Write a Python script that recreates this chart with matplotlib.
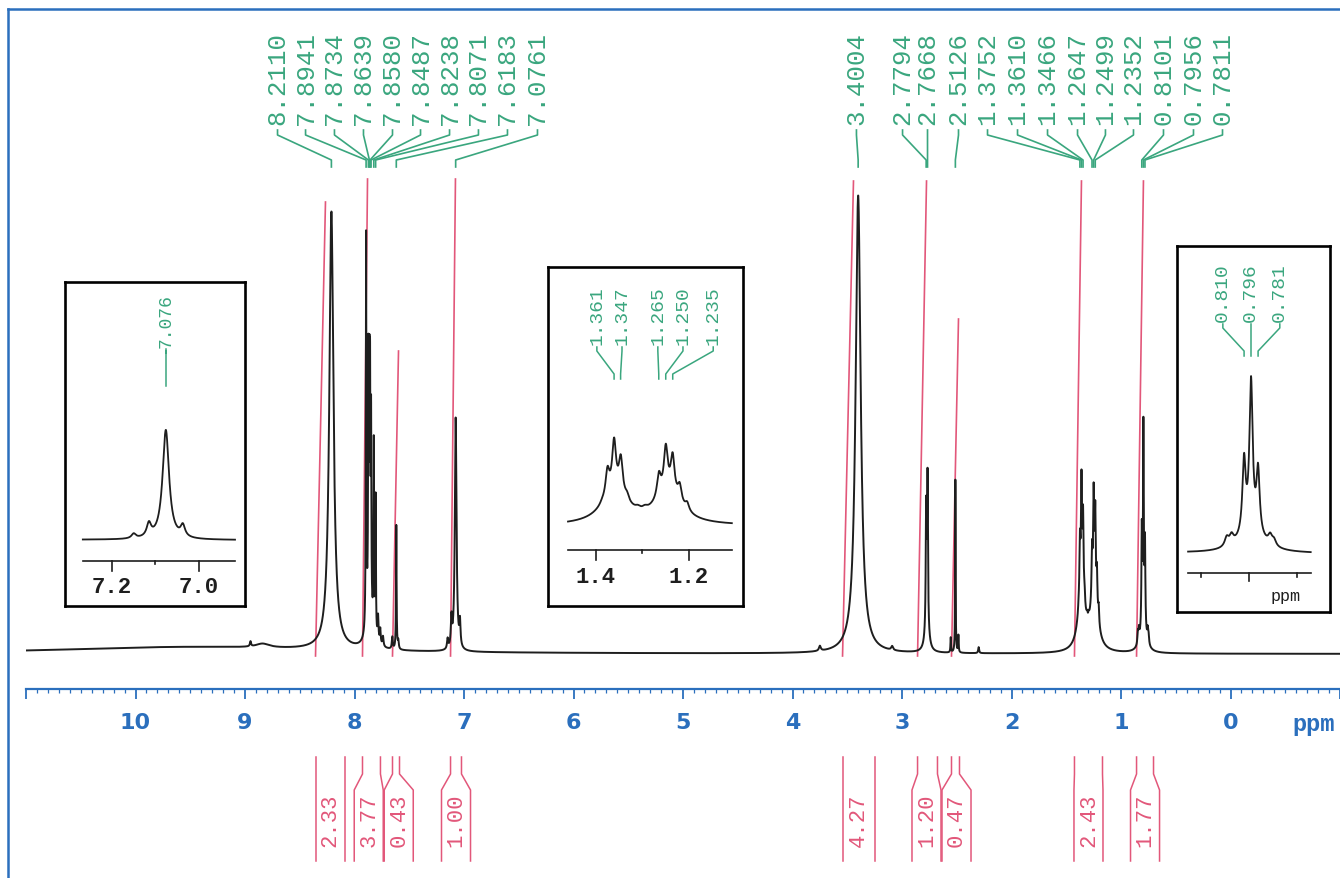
import numpy as np
import matplotlib.pyplot as plt

W, H = 1340, 879

# 1H trace: shift (ppm), height (px above baseline), line width (ppm)
peak_ppm = [9.500, 8.950, 8.840, 8.2110,
            7.8941, 7.8734, 7.8639, 7.8580, 7.8487, 7.8238, 7.8071, 7.860,
            7.785, 7.765, 7.740, 7.655, 7.6183, 7.600,
            7.150, 7.115, 7.0761, 7.037,
            3.750, 3.4004, 3.090,
            2.7794, 2.7668, 2.772, 2.555, 2.5126, 2.485, 2.300,
            1.360, 1.245, 1.387, 1.3752, 1.3610, 1.3466, 1.333, 1.310, 1.295,
            1.2647, 1.2499, 1.2352, 1.220, 1.204,
            0.846, 0.836, 0.8101, 0.7956, 0.7811, 0.796, 0.756, 0.748]
peak_height = [7, 5, 4, 438,
               393, 248, 203, 203, 188, 188, 138, 35,
               25, 15, 10, 12, 124, 8,
               10, 28, 233, 24,
               5, 458, 4,
               118, 148, 25, 15, 173, 17, 6,
               60, 60, 3, 55, 104, 75, 12, 5, 5,
               48, 92, 78, 35, 16,
               12, 12, 97, 198, 84, 25, 12, 8]
peak_width = [3.0, 0.012, 0.15, 0.045,
              0.006, 0.006, 0.006, 0.006, 0.006, 0.006, 0.006, 0.06,
              0.01, 0.01, 0.012, 0.01, 0.006, 0.01,
              0.012, 0.012, 0.018, 0.012,
              0.02, 0.055, 0.02,
              0.009, 0.009, 0.04, 0.006, 0.005, 0.006, 0.01,
              0.07, 0.07, 0.010, 0.010, 0.010, 0.010, 0.010, 0.012, 0.012,
              0.010, 0.010, 0.010, 0.010, 0.010,
              0.01, 0.01, 0.008, 0.008, 0.008, 0.06, 0.01, 0.01]

# picked peaks and where their labels sit (ppm)
pick_main = ['8.2110', '7.8941', '7.8734', '7.8639', '7.8580', '7.8487', '7.8238',
             '7.8071', '7.6183', '7.0761', '3.4004', '2.7794', '2.7668', '2.5126',
             '1.3752', '1.3610', '1.3466', '1.2647', '1.2499', '1.2352',
             '0.8101', '0.7956', '0.7811']
pick_slot = [8.703, 8.447, 8.183, 7.918, 7.653, 7.397, 7.132, 6.868, 6.603, 6.329,
             3.416, 2.995, 2.767, 2.484, 2.219, 1.945, 1.671, 1.397, 1.142, 0.886,
             0.612, 0.338, 0.073]

# integrals
int_from = [8.356, 7.927, 7.653, 7.123, 3.543, 2.858, 2.548, 1.425, 0.858]
int_to = [8.091, 7.763, 7.589, 7.023, 3.251, 2.676, 2.475, 1.169, 0.703]
int_value = ['2.33', '3.77', '0.43', '1.00', '4.27', '1.20', '0.47', '2.43', '1.77']
trace_end = [8.265, 7.881, 7.598, 7.078, 3.443, 2.776, 2.484, 1.361, 0.795]
trace_height = [452, 475, 303, 475, 473, 473, 335, 473, 473]

# expansions
ins1_pick, ins1_slot = ['7.076'], [7.076]
ins2_pick = ['1.361', '1.347', '1.265', '1.250', '1.235']
ins2_slot = [1.398, 1.344, 1.267, 1.213, 1.148]
ins3_pick = ['0.810', '0.796', '0.781']
ins3_slot = [0.854, 0.796, 0.736]

green = '#3aa67e'
red = '#e2577a'
blue = '#2b6fbd'
ink = '#1e1e1e'
mono = 'Liberation Mono'


def lorentz(x):
    y = np.zeros_like(x)
    for p, a, g in zip(peak_ppm, peak_height, peak_width):
        y += a / (1 + ((x - p) / (g / 2)) ** 2)
    return y


def fx(px):
    return px / W


def fy(py):
    return 1 - py / H


fig = plt.figure(figsize=(W / 100, H / 100), dpi=100)

# blue frame
fig.add_artist(plt.Line2D([fx(7.5), 1], [fy(10), fy(10)], color=blue, lw=1.8))
fig.add_artist(plt.Line2D([fx(7.5), fx(7.5)], [fy(10), 0], color=blue, lw=1.8))

base = 655


def Y(py):
    return base - py


ax = fig.add_axes([fx(26), fy(690), fx(1340) - fx(26), fy(10) - fy(690)])
ax.set_xlim(11, -1)
ax.set_ylim(Y(690), Y(10))
for s in ['top', 'left', 'right']:
    ax.spines[s].set_visible(False)
ax.spines['bottom'].set_color(blue)
ax.spines['bottom'].set_linewidth(1.6)
ax.set_yticks([])
ax.set_xticks(range(-1, 12))
ax.set_xticklabels(['' if (t < 0 or t > 10) else str(t) for t in range(-1, 12)])
ax.set_xticks(np.arange(-1, 11.001, 0.1), minor=True)
ax.tick_params(axis='x', which='major', direction='out', length=7.5, width=1.3,
               color=blue, labelcolor=blue, labelsize=16, pad=9)
ax.tick_params(axis='x', which='minor', direction='out', length=3, width=0.9, color=blue)
for lab in ax.get_xticklabels():
    lab.set_fontweight('bold')
ax.text(-0.76, Y(725), 'ppm', color=blue, fontsize=17, family=mono,
        fontweight='bold', ha='center', va='center', clip_on=False)

x = np.linspace(11, -1, 120001)
ax.plot(x, lorentz(x), color=ink, lw=1.4, zorder=3)

# integral traces and brackets
min_w, gap = 0.265, 0.009
bl, br = [], []
for s, e in zip(int_from, int_to):
    c = (s + e) / 2
    half = max(s - e, min_w) / 2
    bl.append(c + half)
    br.append(c - half)
for i in range(1, len(bl)):
    room = br[i - 1] - bl[i]
    if room < gap:
        d = (gap - room) / 2
        bl[i - 1] += d
        br[i - 1] += d
        bl[i] -= d
        br[i] -= d

for i, (s, e) in enumerate(zip(int_from, int_to)):
    ax.plot([s, trace_end[i]], [-2, trace_height[i]], color=red, lw=1.2, zorder=2)
    yy = [Y(758), Y(775), Y(791), Y(862)]
    ax.plot([s, s, bl[i], bl[i]], yy, color=red, lw=1.1, clip_on=False)
    ax.plot([e, e, br[i], br[i]], yy, color=red, lw=1.1, clip_on=False)
    ax.text((bl[i] + br[i]) / 2, Y(820), int_value[i], rotation=90, color=red,
            fontsize=16, family=mono, ha='center', va='center', clip_on=False)

# peak labels
for t, slot in zip(pick_main, pick_slot):
    p = float(t)
    ax.text(slot, Y(125), t, rotation=90, ha='center', va='bottom', color=green,
            fontsize=18.5, family=mono)
    ax.plot([slot, slot, p, p], [Y(131), Y(136), Y(161), Y(168)], color=green, lw=1.2)


def inset(box, lim, base_py, span, scale):
    x0, y0, x1, y1 = box
    a = fig.add_axes([fx(x0), fy(y1), fx(x1) - fx(x0), fy(y0) - fy(y1)])
    a.set_xlim(lim)
    a.set_ylim(base_py - y1, base_py - y0)
    a.set_xticks([])
    a.set_yticks([])
    for sp in a.spines.values():
        sp.set_linewidth(1.9)
        sp.set_color('black')
    xs = np.linspace(span[0], span[1], 6000)
    a.plot(xs, scale * lorentz(xs), color=ink, lw=1.3)
    return a


def labels(a, base_py, picks, slots, text_py, top_py, bend_py, end_py, size):
    for t, slot in zip(picks, slots):
        p = float(t)
        a.text(slot, base_py - text_py, t, rotation=90, ha='center', va='bottom',
               color=green, fontsize=size, family=mono)
        a.plot([slot, slot, p, p],
               [base_py - top_py, base_py - top_py - 4, base_py - bend_py, base_py - end_py],
               color=green, lw=1.1)


# expansion 7.0 - 7.3
b1 = 542
a1 = inset((65, 283, 245, 607), (7.308, 6.894), b1, (7.267, 6.917), 0.47)
a1.plot([7.267, 6.917], [b1 - 562] * 2, color=ink, lw=1.2)
for t, L in [(7.2, 10), (7.1, 3), (7.0, 10)]:
    a1.plot([t, t], [b1 - 562, b1 - 562 - L], color=ink, lw=1.2)
for t in ['7.2', '7.0']:
    a1.text(float(t), b1 - 588, t, ha='center', va='center', fontsize=16,
            family=mono, fontweight='bold', color=ink)
labels(a1, b1, ins1_pick, ins1_slot, 348, 350, 352, 387, 13)

# expansion 1.1 - 1.5
b2 = 527
a2 = inset((548, 268, 743, 607), (1.503, 1.084), b2, (1.46, 1.108), 0.48)
a2.plot([1.46, 1.108], [b2 - 551] * 2, color=ink, lw=1.2)
for t, L in [(1.4, 10), (1.3, 3), (1.2, 10)]:
    a2.plot([t, t], [b2 - 551, b2 - 551 - L], color=ink, lw=1.2)
for t in ['1.4', '1.2']:
    a2.text(float(t), b2 - 578, t, ha='center', va='center', fontsize=16,
            family=mono, fontweight='bold', color=ink)
labels(a2, b2, ins2_pick, ins2_slot, 345, 348, 375, 380, 14)

# expansion 0.65 - 0.95
b3 = 555
a3 = inset((1177, 247, 1330, 613), (0.949, 0.632), b3, (0.926, 0.672), 0.75)
a3.plot([0.926, 0.672], [b3 - 574] * 2, color=ink, lw=1.2)
for t, L in [(0.9, 4), (0.8, 8), (0.7, 4)]:
    a3.plot([t, t], [b3 - 574, b3 - 574 - L], color=ink, lw=1.2)
a3.text(0.725, b3 - 597, 'ppm', ha='center', va='center', fontsize=12,
        family=mono, color=ink)
labels(a3, b3, ins3_pick, ins3_slot, 322, 325, 352, 357, 14)

fig.savefig('out.png', dpi=100)
